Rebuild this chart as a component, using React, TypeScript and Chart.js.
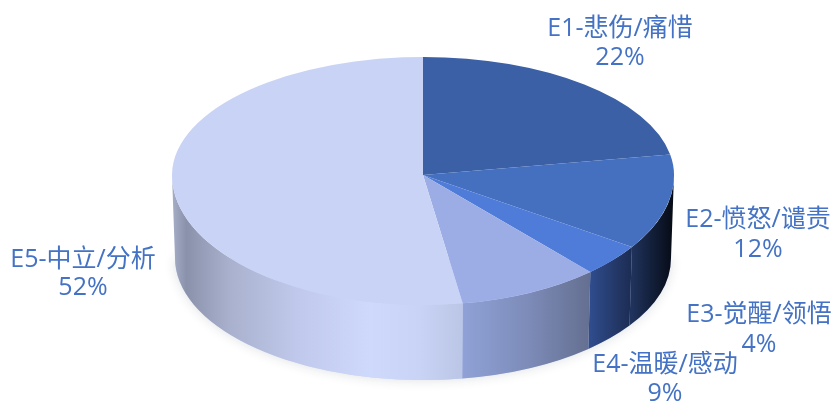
import React, { useEffect, useRef } from "react";
import { Chart, registerables } from "chart.js";

Chart.register(...registerables);

// Emotion shares in percent
const categories = ["E1-悲伤/痛惜", "E2-愤怒/谴责", "E3-觉醒/领悟", "E4-温暖/感动", "E5-中立/分析"];
const shares = [22, 12, 4, 9, 52];
const topColors = ["#3b60a6", "#4570bf", "#4f7cd9", "#9cade6", "#c9d3f5"];

// Side wall shading per slice, left to right: [offset, colour]
const wallShades: [number, string][][] = [
  [[0, "#000000"], [1, "#000000"]],
  [[0, "#20335c"], [0.5, "#121e38"], [1, "#060a14"]],
  [[0, "#2f4c8c"], [1, "#1c2c52"]],
  [[0, "#8fa1d6"], [0.5, "#7d8cb9"], [1, "#646f90"]],
  [[0, "#a6aec8"], [0.05, "#8a92ab"], [0.2, "#a9b1ce"], [0.43, "#c0c9eb"], [0.68, "#cfd9fb"], [0.85, "#c9d3f5"], [1, "#bbc5e5"]],
];

// Label anchors: [centre x, first line y, second line y]
const labelAnchors = [
  [620, 29, 58],
  [758, 220, 250],
  [759, 315, 345],
  [665, 365, 394],
  [83, 260, 288],
];

const CANVAS_W = 832;
const CANVAS_H = 401;
const RADIUS = 251;
const RY_BACK = 118;
const RY_FRONT = 130;
const BASE_DROP = 83;
const BASE_RX = 248;
const BASE_RY = 122;
const LABEL_FONT = '25px "Open Sans", "Noto Sans CJK SC", sans-serif';
const LABEL_COLOR = "#4472c4";

// Tilted-disc rendering: the pie elements are painted twice under a vertical
// squash, once for the far half and once for the near half, over a shaded wall.
const tiltedPie = {
  id: "tiltedPie",
  beforeDatasetDraw(chart: any, args: any) {
    const ctx: CanvasRenderingContext2D = chart.ctx;
    const arcs = args.meta.data;
    const cx = arcs[0].x;
    const cy = arcs[0].y;
    const R = arcs[0].outerRadius;
    const kBack = RY_BACK / RADIUS;
    const kFront = RY_FRONT / RADIUS;

    // soft shadow below the wall
    ctx.save();
    ctx.shadowColor = "rgba(30,40,70,0.15)";
    ctx.shadowBlur = 12;
    ctx.fillStyle = "#c9d3f5";
    ctx.beginPath();
    ctx.ellipse(cx, cy + BASE_DROP, BASE_RX, BASE_RY, 0, 0, Math.PI);
    ctx.closePath();
    ctx.fill();
    ctx.restore();

    arcs.forEach((arc: any, i: number) => {
      const a0 = Math.max(arc.startAngle, 0);
      const a1 = Math.min(arc.endAngle, Math.PI);
      if (a1 <= a0) return;
      const left = cx + R * Math.cos(a1);
      const right = cx + R * Math.cos(a0);
      const grad = ctx.createLinearGradient(left, 0, right, 0);
      wallShades[i].forEach(([o, c]) => grad.addColorStop(o, c));
      ctx.fillStyle = grad;
      ctx.beginPath();
      ctx.ellipse(cx, cy, R, R * kFront, 0, a0, a1);
      ctx.ellipse(cx, cy + BASE_DROP, BASE_RX, BASE_RY, 0, a1, a0, true);
      ctx.closePath();
      ctx.fill();
    });

    const paintHalf = (top: number, height: number, k: number) => {
      ctx.save();
      ctx.beginPath();
      ctx.rect(0, top, CANVAS_W, height);
      ctx.clip();
      ctx.translate(cx, cy);
      ctx.scale(1, k);
      ctx.translate(-cx, -cy);
      args.meta.controller.draw();
      ctx.restore();
    };
    paintHalf(0, cy, kBack);
    paintHalf(cy, CANVAS_H - cy, kFront);
    return false;
  },
  afterDraw(chart: any) {
    const ctx: CanvasRenderingContext2D = chart.ctx;
    ctx.save();
    ctx.font = LABEL_FONT;
    ctx.fillStyle = LABEL_COLOR;
    ctx.textAlign = "center";
    ctx.textBaseline = "middle";
    categories.forEach((name, i) => {
      const [x, y1, y2] = labelAnchors[i];
      ctx.fillText(name, x, y1);
      ctx.fillText(`${shares[i]}%`, x, y2);
    });
    ctx.restore();
  },
};

export default function App() {
  const canvasRef = useRef<HTMLCanvasElement | null>(null);

  useEffect(() => {
    const chart = new Chart(canvasRef.current as HTMLCanvasElement, {
      type: "pie",
      data: {
        labels: categories,
        datasets: [
          {
            data: shares,
            backgroundColor: topColors,
            borderWidth: 0,
            radius: RADIUS,
          } as any,
        ],
      },
      options: {
        responsive: false,
        animation: false,
        layout: { padding: { left: 14, bottom: 51 } },
        plugins: { legend: { display: false }, tooltip: { enabled: false } },
      },
      plugins: [tiltedPie],
    });
    return () => chart.destroy();
  }, []);

  return (
    <div style={{ position: "fixed", left: 0, top: 0, width: CANVAS_W, height: CANVAS_H, background: "#fff" }}>
      <canvas ref={canvasRef} width={CANVAS_W} height={CANVAS_H} style={{ display: "block" }} />
    </div>
  );
}
